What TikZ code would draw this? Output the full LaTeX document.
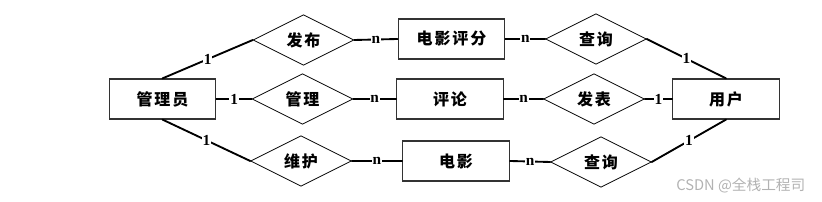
\documentclass[tikz,border=0pt]{standalone}
\usepackage{fontspec}
\setmainfont{Liberation Serif}
\newfontfamily\cjkfont[LetterSpace=12]{Noto Sans CJK SC}
\newfontfamily\markfont{Noto Sans CJK SC}
\usetikzlibrary{shapes.geometric}

\begin{document}
\begin{tikzpicture}[x=0.75pt,y=-0.75pt]
\tikzset{
  entity/.style={rectangle,draw=black!80,line width=0.9pt,minimum width=80pt,minimum height=30pt,inner sep=1pt,font=\cjkfont\bfseries\fontsize{12}{13}\selectfont},
  relation/.style={diamond,draw=black,line width=0.6pt,minimum width=75.5pt,minimum height=38pt,inner sep=0pt,font=\cjkfont\bfseries\fontsize{12}{13}\selectfont},
  link/.style={draw=black,line width=1.4pt,line cap=round},
  card/.style={fill=white,inner sep=0.6pt,font=\bfseries\fontsize{11.5}{12}\selectfont}
}
\useasboundingbox (0,0) rectangle (822,202);
% entities
\node[entity] (n_admin) at (162.5,99) {管理员};
\node[entity] (n_rating) at (451.5,39) {电影评分};
\node[entity] (n_comment) at (450,99) {评论};
\node[entity] (n_movie) at (456,161) {电影};
\node[entity] (n_user) at (726,99) {用户};
% relations
\node[relation] (r_publish) at (303.5,40) {发布};
\node[relation] (r_manage) at (302.5,99) {管理};
\node[relation] (r_maintain) at (301,161) {维护};
\node[relation] (r_query1) at (596,39) {查询};
\node[relation] (r_post) at (594,99) {发表};
\node[relation] (r_query2) at (601,162) {查询};
% links
\draw[link] (n_admin.north) -- node[card] {1} (r_publish.west);
\draw[link] (n_admin.east) -- node[card] {1} (r_manage.west);
\draw[link] (n_admin.south) -- node[card] {1} (r_maintain.west);
\draw[link] (r_publish.east) -- node[card] {n} (n_rating.west);
\draw[link] (r_manage.east) -- node[card] {n} (n_comment.west);
\draw[link] (r_maintain.east) -- node[card] {n} (n_movie.west);
\draw[link] (n_rating.east) -- node[card] {n} (r_query1.west);
\draw[link] (n_comment.east) -- node[card] {n} (r_post.west);
\draw[link] (n_movie.east) -- node[card] {n} (r_query2.west);
\draw[link] (r_query1.east) -- node[card] {1} (n_user.north);
\draw[link] (r_post.east) -- node[card] {1} (n_user.west);
\draw[link] (r_query2.east) -- node[card] {1} (n_user.south);
% watermark
\node[text=black!30,font=\markfont\fontsize{11}{12}\selectfont,anchor=east] (n_mark) at (810,186) {CSDN @全栈工程司};
\end{tikzpicture}
\end{document}
